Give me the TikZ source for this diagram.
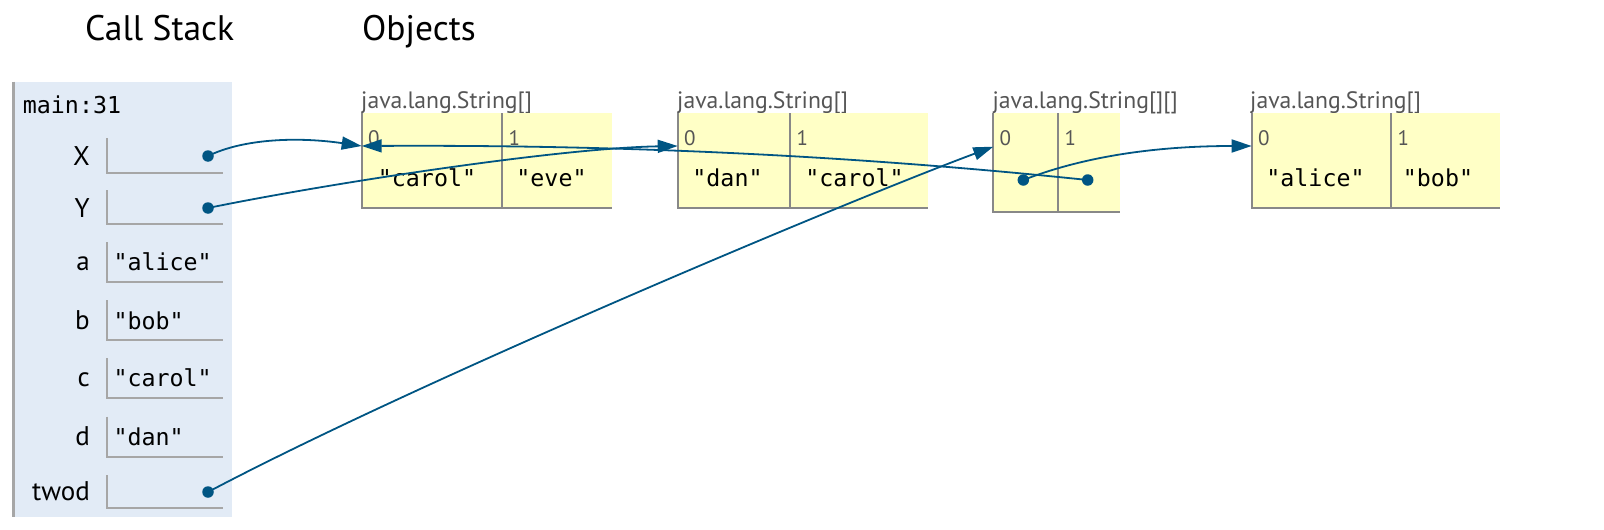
\documentclass[tikz,border=0pt]{standalone}
\usepackage{fontspec}
\setmainfont{PT Sans}
\setmonofont{DejaVu Sans Mono}
\usetikzlibrary{arrows.meta}
\definecolor{frameblue}{HTML}{E2EBF6}
\definecolor{framegray}{HTML}{A6A6A6}
\definecolor{fieldgray}{HTML}{A6A6A6}
\definecolor{heapyellow}{HTML}{FFFFC6}
\definecolor{heapgray}{HTML}{888888}
\definecolor{labelgray}{HTML}{555555}
\definecolor{arrowblue}{HTML}{005583}
\begin{document}
\begin{tikzpicture}[x=1pt,y=-1pt,
  title/.style={anchor=base west, inner sep=0pt, font=\fontsize{35.5}{38}\selectfont},
  varlabel/.style={anchor=base east, inner sep=0pt, font=\fontsize{27}{30}\selectfont},
  monoval/.style={inner sep=0pt, font=\ttfamily\fontsize{23.3}{26}\selectfont},
  typelabel/.style={anchor=base west, inner sep=0pt, text=labelgray, font=\fontsize{23.7}{26}\selectfont},
  idx/.style={anchor=base west, inner sep=0pt, text=labelgray, font=\fontsize{21}{24}\selectfont},
  cell/.style={draw=none, fill=heapyellow, inner sep=0pt, outer sep=0pt, anchor=north west},
  heapline/.style={draw=heapgray, line width=2pt},
  field/.style={draw=fieldgray, line width=2pt},
  dot/.style={circle, fill=arrowblue, inner sep=0pt, minimum size=11.5pt},
  ref/.style={draw=arrowblue, line width=1.8pt, -{Triangle[length=20pt,width=13pt]}},
]
\useasboundingbox (0,0) rectangle (1604,530);

% titles
\node[title] (tcs) at (85,40) {Call Stack};
\node[title] (tob) at (362,40) {Objects};

% stack frame
\fill[frameblue] (12,81.7) rectangle (232,517.3);
\draw[framegray, line width=2.5pt] (13.5,81.7) -- (13.5,517.3);
\node[monoval, anchor=base west] (frm) at (22.7,113.3) {main:31};

% variable labels
\node[varlabel] (lX) at (90,165.7) {X};
\node[varlabel] (lY) at (90,217.3) {Y};
\node[varlabel] (la) at (90,270.7) {a};
\node[varlabel] (lb) at (90,329) {b};
\node[varlabel] (lc) at (90,386.7) {c};
\node[varlabel] (ld) at (90,445) {d};
\node[varlabel] (ltwod) at (90,500.7) {twod};

% fields
\draw[field] (106.7,138.3) -- (106.7,173.3) -- (223.3,173.3);
\draw[field] (106.7,190) -- (106.7,224.3) -- (223.3,224.3);
\draw[field] (106.7,242.3) -- (106.7,282.3) -- (223.3,282.3);
\draw[field] (106.7,300) -- (106.7,340) -- (223.3,340);
\draw[field] (106.7,358.3) -- (106.7,398.3) -- (223.3,398.3);
\draw[field] (106.7,416.7) -- (106.7,456.7) -- (223.3,456.7);
\draw[field] (106.7,475) -- (106.7,508.3) -- (223.3,508.3);

% field values
\node[monoval, anchor=base west] (va) at (113.3,270.7) {"alice"};
\node[monoval, anchor=base west] (vb) at (113.3,329) {"bob"};
\node[monoval, anchor=base west] (vc) at (113.3,386.7) {"carol"};
\node[monoval, anchor=base west] (vd) at (113.3,445) {"dan"};

% ---- heap object 1
\node[typelabel] (h1t) at (361,108.3) {java.lang.String[]};
\node[cell, minimum width=140.6pt, minimum height=95pt] (h1c0) at (361.7,113.3) {};
\node[cell, minimum width=109.4pt, minimum height=95pt] (h1c1) at (502.3,113.3) {};
\draw[heapline] (h1c0.north west) -- (h1c0.south west) -- (h1c1.south east);
\draw[heapline] (h1c1.north west) -- (h1c1.south west);
\node[idx] (h1i0) at (368,145) {0};
\node[idx] (h1i1) at (508.5,145) {1};
\node[monoval, anchor=base] (h1v0) at (427,186) {"carol"};
\node[monoval, anchor=base] (h1v1) at (551.5,186) {"eve"};

% ---- heap object 2
\node[typelabel] (h2t) at (677,108.3) {java.lang.String[]};
\node[cell, minimum width=112.3pt, minimum height=95pt] (h2c0) at (677.7,113.3) {};
\node[cell, minimum width=137.7pt, minimum height=95pt] (h2c1) at (790,113.3) {};
\draw[heapline] (h2c0.north west) -- (h2c0.south west) -- (h2c1.south east);
\draw[heapline] (h2c1.north west) -- (h2c1.south west);
\node[idx] (h2i0) at (684,145) {0};
\node[idx] (h2i1) at (796.5,145) {1};
\node[monoval, anchor=base] (h2v0) at (727.5,186) {"dan"};
\node[monoval, anchor=base] (h2v1) at (854.5,186) {"carol"};

% ---- heap object 3
\node[typelabel] (h3t) at (992.3,108.3) {java.lang.String[][]};
\node[cell, minimum width=64.7pt, minimum height=98.4pt] (h3c0) at (993.3,113.3) {};
\node[cell, minimum width=62pt, minimum height=98.4pt] (h3c1) at (1058,113.3) {};
\draw[heapline] (h3c0.north west) -- (h3c0.south west) -- (h3c1.south east);
\draw[heapline] (h3c1.north west) -- (h3c1.south west);
\node[idx] (h3i0) at (999.5,145) {0};
\node[idx] (h3i1) at (1064.5,145) {1};

% ---- heap object 4
\node[typelabel] (h4t) at (1250,108.3) {java.lang.String[]};
\node[cell, minimum width=139.3pt, minimum height=95pt] (h4c0) at (1251.7,113.3) {};
\node[cell, minimum width=109pt, minimum height=95pt] (h4c1) at (1391,113.3) {};
\draw[heapline] (h4c0.north west) -- (h4c0.south west) -- (h4c1.south east);
\draw[heapline] (h4c1.north west) -- (h4c1.south west);
\node[idx] (h4i0) at (1258,145) {0};
\node[idx] (h4i1) at (1397.5,145) {1};
\node[monoval, anchor=base] (h4v0) at (1315.5,186) {"alice"};
\node[monoval, anchor=base] (h4v1) at (1438,186) {"bob"};

% reference targets
\coordinate (t1) at (361.7,146);
\coordinate (t2) at (677.7,146);
\coordinate (t3) at (993.3,146.7);
\coordinate (t4) at (1251.7,146);

% dots
\node[dot] (dX) at (208,156) {};
\node[dot] (dY) at (208,208) {};
\node[dot] (dtwod) at (208,492) {};
\node[dot] (d30) at (1023.3,180) {};
\node[dot] (d31) at (1087.7,180) {};

% references
\draw[ref] (dX.center) .. controls (245,138) and (300,137) .. (t1);
\draw[ref] (dY.center) .. controls (330,183) and (560,148) .. (t2);
\draw[ref] (dtwod.center) .. controls (420,380) and (850,200) .. (t3);
\draw[ref] (d30.center) .. controls (1080,158) and (1150,146) .. (t4);
\draw[ref] (d31.center) .. controls (800,150) and (560,145) .. (t1);
\end{tikzpicture}
\end{document}
